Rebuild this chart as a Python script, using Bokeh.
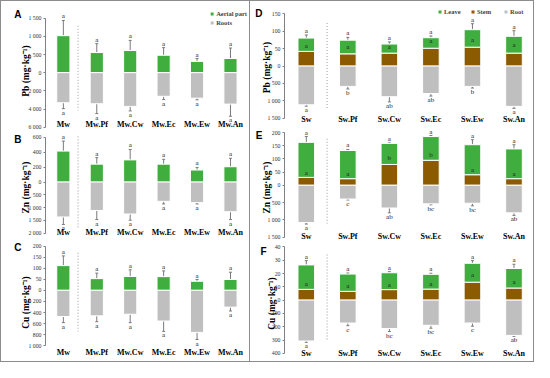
from bokeh.plotting import figure
from bokeh.layouts import row, column
from bokeh.models import (ColumnDataSource, Range1d, FixedTicker, Whisker, TeeHead,
                          LinearAxis, Legend, LegendItem)
from bokeh.core.properties import value
from bokeh.embed import file_html
from bokeh.resources import INLINE

# ---------------- data ----------------
cats_mw = ["Mw", "Mw.Pf", "Mw.Cw", "Mw.Ec", "Mw.Ew", "Mw.An"]
cats_sw = ["Sw", "Sw.Pf", "Sw.Cw", "Sw.Ec", "Sw.Ew", "Sw.An"]

# A : Pb, Mw
pb_aerial     = [1020, 555, 610, 480, 310, 390]
pb_aerial_err = [420, 245, 280, 210, 80, 290]
pb_aerial_sig = ["a", "a", "a", "a", "a", "a"]
pb_roots      = [3300, 3410, 3700, 2590, 2800, 3450]
pb_roots_err  = [650, 1080, 500, 360, 180, 1330]
pb_roots_sig  = ["a", "a", "a", "a", "a", "a"]
# B : Zn, Mw
zn_aerial     = [416, 241, 298, 241, 162, 206]
zn_aerial_err = [135, 87, 140, 65, 35, 114]
zn_aerial_sig = ["a", "a", "a", "a", "a", "a"]
zn_roots      = [1365, 1110, 1250, 753, 804, 1160]
zn_roots_err  = [293, 357, 242, 102, 51, 307]
zn_roots_sig  = ["a", "a", "a", "a", "a", "a"]
# C : Cu, Mw
cu_aerial     = [112, 53, 63, 62, 41, 49]
cu_aerial_err = [44, 25, 30, 26, 8, 33]
cu_aerial_sig = ["a", "a", "a", "a", "a", "a"]
cu_roots      = [471, 459, 430, 552, 756, 302]
cu_roots_err  = [110, 105, 151, 186, 128, 70]
cu_roots_sig  = ["a", "a", "a", "a", "a", "a"]

# D : Pb, Sw
pb_stem       = [42, 35, 37, 51, 54, 37]
pb_stem_err   = [4, 9, 7, 10, 10, 12]
pb_stem_sig   = ["a", "a", "a", "a", "a", "a"]
pb_leave      = [38, 39, 26, 30, 50, 48]
pb_leave_err  = [9, 8, 6, 5, 17, 16]
pb_leave_sig  = ["a", "a", "a", "a", "a", "a"]
pb_root       = [1111, 583, 880, 787, 583, 1157]
pb_root_err   = [40, 74, 148, 74, 47, 56]
pb_root_sig   = ["a", "b", "ab", "ab", "b", "a"]
# E : Zn, Sw
zn_stem       = [30, 25, 79, 95, 40, 25]
zn_stem_err   = [2, 2, 8, 5, 2, 2]
zn_stem_sig   = ["a", "a", "b", "b", "a", "a"]
zn_leave      = [133, 107, 80, 90, 114, 113]
zn_leave_err  = [22, 4, 2, 4, 19, 16]
zn_leave_sig  = ["a", "a", "a", "a", "a", "a"]
zn_root       = [1074, 398, 657, 537, 519, 796]
zn_root_err   = [46, 28, 139, 28, 74, 74]
zn_root_sig   = ["a", "c", "ab", "bc", "bc", "ab"]
# F : Cu, Sw
cu_stem       = [8.1, 6.6, 7.9, 8.3, 13.5, 9.1]
cu_stem_err   = [1.0, 1.0, 0.8, 0.8, 2.5, 1.5]
cu_stem_sig   = ["a", "a", "a", "a", "a", "a"]
cu_leave      = [18.4, 13.0, 12.7, 11.1, 14.2, 14.7]
cu_leave_err  = [3.2, 0.8, 0.8, 0.8, 2.0, 3.2]
cu_leave_sig  = ["a", "a", "a", "a", "a", "a"]
cu_root       = [307, 172, 213, 189, 172, 265]
cu_root_err   = [10, 20, 23, 22, 24, 7]
cu_root_sig   = ["a", "c", "bc", "bc", "c", "ab"]

# y-axis tick values (upper part / lower part)
a_pos_ticks = [0, 500, 1000, 1500];      a_neg_ticks = [2000, 4000, 6000]
b_pos_ticks = [0, 200, 400, 600];        b_neg_ticks = [500, 1000, 1500, 2000]
c_pos_ticks = [0, 50, 100, 150, 200];    c_neg_ticks = [200, 400, 600, 800, 1000]
d_pos_ticks = [0, 50, 100, 150];         d_neg_ticks = [500, 1000, 1500]
e_pos_ticks = [0, 50, 100, 150, 200];    e_neg_ticks = [500, 1000, 1500]
f_pos_ticks = [0, 10, 20, 30, 40];       f_neg_ticks = [100, 200, 300, 400]

GREEN = "#3fae3f"
BROWN = "#8c5a00"
GREY = "#bfbfbf"
ERR = "#7a7a7a"
SERIF = "Liberation Serif"
S = 0.975
XS = list(range(6))


def fmt(v):
    return f"{v:,}".replace(",", " ")


def make_panel(cats, g, layers, roots, pos_ticks, neg_ticks, ylabel, letter, legend=None):
    kp, kn = g["kpos"], g["kneg"]
    p = figure(width=g["W"], height=g["H"], x_range=Range1d(*g["xr"]),
               y_range=Range1d(-(g["fbot"] - g["zero"]), g["zero"] - g["ftop"]),
               output_backend="svg", toolbar_location=None,
               min_border_left=g["mbl"], min_border_right=0,
               min_border_top=g["mbt"], min_border_bottom=0,
               outline_line_color=None)
    p.grid.visible = False
    rends = {}
    base = [0.0] * 6
    pos_srcs = []
    for name, vals, errs, sig, color in layers:
        top = [b + v for b, v in zip(base, vals)]
        src = ColumnDataSource(dict(x=XS, bottom=[b * kp for b in base], top=[t * kp for t in top],
                                    upper=[(t + e) * kp for t, e in zip(top, errs)], sig=sig))
        rends[name] = p.vbar(x="x", bottom="bottom", top="top", width=g["bw"], source=src,
                             fill_color=color, line_color="white", line_width=1)
        pos_srcs.append(src)
        base = top
    name, vals, errs, sig, color = roots
    rsrc = ColumnDataSource(dict(x=XS, top=[0.0] * 6, bottom=[-v * kn for v in vals],
                                 lower=[-(v + e) * kn for v, e in zip(vals, errs)], sig=sig))
    rends[name] = p.vbar(x="x", bottom="bottom", top="top", width=g["bw"], source=rsrc,
                         fill_color=color, line_color="white", line_width=1)

    sx, st, sb = g["sep"]
    p.segment(x0=[sx], x1=[sx], y0=[g["zero"] - st], y1=[g["zero"] - sb],
              line_color="#9a9a9a", line_width=1, line_dash="1 2")

    for src in pos_srcs:
        p.add_layout(Whisker(source=src, base="x", lower="top", upper="upper", dimension="height",
                             line_color=ERR, line_width=1,
                             upper_head=TeeHead(size=3, line_color=ERR, line_width=1), lower_head=None))
    p.add_layout(Whisker(source=rsrc, base="x", lower="lower", upper="bottom", dimension="height",
                         line_color=ERR, line_width=1,
                         lower_head=TeeHead(size=3, line_color=ERR, line_width=1), upper_head=None))
    for src in pos_srcs:
        p.text(x="x", y="upper", text="sig", source=src, text_font=value(SERIF),
               text_font_size="7px", text_align="center", text_baseline="bottom",
               text_color="#222222")
    p.text(x="x", y="lower", text="sig", source=rsrc, text_font=value(SERIF),
           text_font_size="7px", text_align="center", text_baseline="top", text_color="#222222")

    ticks, labels = [], {}
    for v in pos_ticks:
        t = round(v * kp, 5)
        ticks.append(t)
        labels[t] = fmt(v)
    for v in neg_ticks:
        t = round(-v * kn, 5)
        ticks.append(t)
        labels[t] = fmt(v)
    ya = p.yaxis[0]
    ya.ticker = FixedTicker(ticks=ticks)
    ya.major_label_overrides = labels
    ya.bounds = (min(ticks), max(ticks))
    ya.axis_line_color = "#808080"
    ya.major_tick_line_color = "#808080"
    ya.major_tick_out = 2
    ya.major_tick_in = 0
    ya.minor_tick_line_color = None
    ya.major_label_standoff = 2
    ya.major_label_text_font = SERIF
    ya.major_label_text_font_size = "5.8px"
    ya.major_label_text_color = "#333333"
    ya.axis_label = ylabel
    ya.axis_label_text_font = SERIF
    ya.axis_label_text_font_style = "bold"
    ya.axis_label_text_font_size = "9.5px"
    ya.axis_label_text_color = "black"
    ya.axis_label_standoff = g["yls"]

    # panel letter, drawn as the single label of an outer left axis
    ly = round(g["zero"] - g["letter_y"], 3)
    lax = LinearAxis(ticker=FixedTicker(ticks=[ly]), major_label_overrides={ly: letter},
                     axis_line_color=None, major_tick_line_color=None, minor_tick_line_color=None,
                     major_tick_out=0, major_tick_in=0, major_label_standoff=g["lls"],
                     major_label_text_font="Liberation Sans", major_label_text_font_style="bold",
                     major_label_text_font_size="10px", major_label_text_color="black")
    p.add_layout(lax, "left")

    xa = p.xaxis[0]
    xa.ticker = FixedTicker(ticks=XS)
    xa.major_label_overrides = {i: c for i, c in enumerate(cats)}
    xa.axis_line_color = None
    xa.major_tick_line_color = None
    xa.minor_tick_line_color = None
    xa.major_tick_out = 0
    xa.major_label_standoff = g["xls"]
    xa.major_label_text_font = SERIF
    xa.major_label_text_font_style = "bold"
    xa.major_label_text_font_size = "8px"
    xa.major_label_text_color = "black"

    if legend is not None:
        items = [LegendItem(label=lab_, renderers=[rends[key]]) for lab_, key in legend["items"]]
        lg = Legend(items=items, location="top_right", orientation=legend["orient"],
                    glyph_width=5, glyph_height=5, label_standoff=2, spacing=legend["spacing"],
                    padding=0, margin=legend["margin"], border_line_color=None, background_fill_alpha=0,
                    label_text_font=SERIF, label_text_font_style="bold",
                    label_text_font_size="6.5px", label_height=7)
        p.add_layout(lg)
    return p


left_common = dict(W=248, mbl=44, xr=(-0.534, 5.569), bw=0.394, yls=-6, lls=-3)
right_common = dict(W=283, mbl=34, xr=(-0.525, 5.47), bw=0.40, yls=-8, lls=-3)

gA = dict(left_common, H=132, mbt=7, zero=74.7, ftop=9, fbot=137, kpos=55.7 / 1500, kneg=56 / 6000,
          sep=(0.44, 26.7, 113.3), letter_y=15.5, xls=-14)
gB = dict(left_common, H=108, mbt=0, zero=186.7, ftop=137, fbot=247.5, kpos=45.7 / 600, kneg=52.3 / 2000,
          sep=(0.44, 140, 235), letter_y=142, xls=-14)
gC = dict(left_common, H=120, mbt=2, zero=297.7, ftop=249.5, fbot=371, kpos=45.4 / 200, kneg=57.3 / 1000,
          sep=(0.44, 259, 340), letter_y=253.5, xls=-14)
gD = dict(right_common, H=128, mbt=4, zero=68.3, ftop=6, fbot=133.5, kpos=54 / 150, kneg=53.7 / 1500,
          sep=(0.5, 24, 111.7), letter_y=14, xls=-15)
gE = dict(right_common, H=116, mbt=0, zero=190.7, ftop=133.5, fbot=252.5, kpos=54 / 200, kneg=53.3 / 1500,
          sep=(0.5, 143, 230), letter_y=138.5, xls=-14)
gF = dict(right_common, H=116, mbt=0, zero=308.3, ftop=252.5, fbot=371, kpos=54.3 / 40, kneg=54.4 / 400,
          sep=(0.5, 261.7, 350), letter_y=257.5, xls=-13)

UNIT = "(mg\u00b7kg\u207b\u00b9)"

pA = make_panel(cats_mw, gA, [("aerial", pb_aerial, pb_aerial_err, pb_aerial_sig, GREEN)],
                ("roots", pb_roots, pb_roots_err, pb_roots_sig, GREY), a_pos_ticks, a_neg_ticks,
                "Pb " + UNIT, "A",
                legend=dict(items=[("Aerial part", "aerial"), ("Roots", "roots")],
                            orient="vertical", spacing=2, margin=2))
pB = make_panel(cats_mw, gB, [("aerial", zn_aerial, zn_aerial_err, zn_aerial_sig, GREEN)],
                ("roots", zn_roots, zn_roots_err, zn_roots_sig, GREY), b_pos_ticks, b_neg_ticks,
                "Zn " + UNIT, "B")
pC = make_panel(cats_mw, gC, [("aerial", cu_aerial, cu_aerial_err, cu_aerial_sig, GREEN)],
                ("roots", cu_roots, cu_roots_err, cu_roots_sig, GREY), c_pos_ticks, c_neg_ticks,
                "Cu " + UNIT, "C")
pD = make_panel(cats_sw, gD, [("stem", pb_stem, pb_stem_err, pb_stem_sig, BROWN),
                              ("leave", pb_leave, pb_leave_err, pb_leave_sig, GREEN)],
                ("root", pb_root, pb_root_err, pb_root_sig, GREY), d_pos_ticks, d_neg_ticks,
                "Pb " + UNIT, "D",
                legend=dict(items=[("Leave", "leave"), ("Stem", "stem"), ("Root", "root")],
                            orient="horizontal", spacing=6, margin=3))
pE = make_panel(cats_sw, gE, [("stem", zn_stem, zn_stem_err, zn_stem_sig, BROWN),
                              ("leave", zn_leave, zn_leave_err, zn_leave_sig, GREEN)],
                ("root", zn_root, zn_root_err, zn_root_sig, GREY), e_pos_ticks, e_neg_ticks,
                "Zn " + UNIT, "E")
pF = make_panel(cats_sw, gF, [("stem", cu_stem, cu_stem_err, cu_stem_sig, BROWN),
                              ("leave", cu_leave, cu_leave_err, cu_leave_sig, GREEN)],
                ("root", cu_root, cu_root_err, cu_root_sig, GREY), f_pos_ticks, f_neg_ticks,
                "Cu " + UNIT, "F")

BORDER = "1px solid #8c8c8c"
left = column(pA, pB, pC, styles={"border": BORDER})
right = column(pD, pE, pF, styles={"border-top": BORDER, "border-right": BORDER, "border-bottom": BORDER})
layout = row(left, right)

open("out.html", "w").write(file_html(layout, INLINE))
